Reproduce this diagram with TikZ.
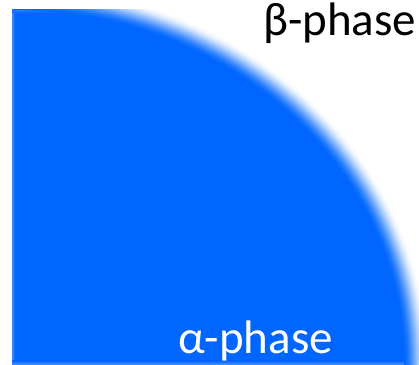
\documentclass[tikz,border=0pt]{standalone}
\usepackage{fontspec}
\setmainfont{Carlito}
\definecolor{phaseblue}{RGB}{0,102,255}
\tikzset{
  phaselabel/.style={anchor=base west, inner sep=0pt, font=\fontsize{47}{47}\selectfont}
}
\begin{document}
\begin{tikzpicture}[x=1pt,y=1pt]
  \useasboundingbox (0,0) rectangle (419,364);
  \fill[white] (0,0) rectangle (419,364);
  \begin{scope}
    \clip (12,0) rectangle (419,354);
    % soft rim of the alpha region: layered ellipses from white to blue
    \foreach \i in {0,...,30}{
      \pgfmathsetmacro{\t}{\i/30}
      \pgfmathsetmacro{\d}{13-26*\t}
      \pgfmathsetmacro{\p}{100*(3*\t*\t-2*\t*\t*\t)}
      \fill[phaseblue!\p!white] (12,0) ellipse [x radius=404+\d, y radius=366+\d];
    }
    % slightly soft straight edges
    \begin{scope}
      \clip (12,0) ellipse [x radius=392, y radius=354];
      \shade[left color=phaseblue!75!white, right color=phaseblue] (12,0) rectangle (15,354);
      \shade[bottom color=phaseblue!75!white, top color=phaseblue] (12,0) rectangle (419,3.5);
      \shade[top color=phaseblue!85!white, bottom color=phaseblue] (12,351) rectangle (419,354);
    \end{scope}
  \end{scope}
  \node[phaselabel, text=black] (beta) at (263,328) {β-phase};
  \node[phaselabel, text=white] (alpha) at (178,10.5) {α-phase};
\end{tikzpicture}
\end{document}
